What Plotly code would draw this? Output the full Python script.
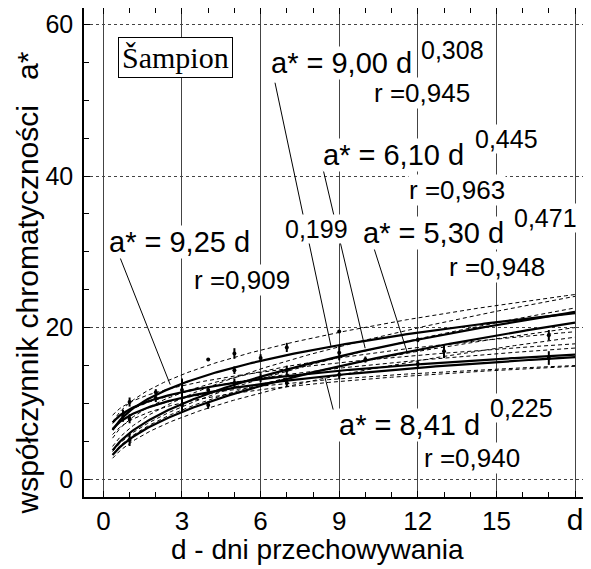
import numpy as np
import plotly.graph_objects as go

# ---- fitted power curves a* = c * d^b ----
coef = [9.25, 9.00, 6.10, 5.30, 8.41]
expo = [0.199, 0.308, 0.445, 0.471, 0.225]
coef_txt = ["9,25", "9,00", "6,10", "5,30", "8,41"]
expo_txt = ["0,199", "0,308", "0,445", "0,471", "0,225"]
r_txt = ["0,909", "0,945", "0,963", "0,948", "0,940"]
band_k = [0.07, 0.09, 0.075, 0.075, 0.06]   # relative half-width of confidence bands
d_start, d_end = 0.35, 18.0

# ---- measured points (mean, half range) ----
pt_d = [0.75, 1, 1, 1, 2, 2, 3, 3, 4, 4, 4, 5, 5, 5, 6, 6, 7, 7, 7, 9, 9, 9, 10, 12, 12, 13, 17, 17]
pt_a = [8.4, 10.2, 5.2, 8.0, 10.7, 11.5, 11.8, 9.8, 15.8, 11.8, 9.8, 16.6, 14.4, 12.7, 16.0, 13.4,
        17.4, 14.4, 12.7, 19.5, 16.7, 13.8, 15.8, 18.4, 15.2, 16.9, 19.0, 16.0]
pt_err = [0.8, 0.6, 0.8, 0.6, 0.5, 0.4, 1.5, 1.0, 0.0, 0.5, 0.5, 0.7, 0.5, 0.6, 0.5, 0.6,
          0.6, 0.6, 0.5, 0.0, 1.0, 0.6, 0.4, 0.3, 0.4, 0.9, 0.7, 0.9]

# ---- axis ticks ----
x_tickvals = [0, 3, 6, 9, 12, 15, 18]
x_ticktext = ["0", "3", "6", "9", "12", "15", "<span style='font-size:30px'>d</span>"]
y_tickvals = [0, 20, 40, 60]

# ---- label placement (data coordinates) ----
eq_x = [0.18, 6.37, 8.35, 9.87, 8.95]
eq_y = [31.3, 54.9, 42.8, 32.5, 7.17]
sup_x = [6.9, 12.08, 14.15, 15.64, 14.72]
sup_y = [33.0, 56.6, 44.9, 34.5, 9.4]
r_x = [3.43, 10.29, 11.63, 13.16, 12.2]
r_y = [26.3, 50.9, 38.2, 28.0, 2.8]
lead_x0 = [0.64, 6.55, 8.39, 10.26, 8.77]
lead_y0 = [29.2, 52.3, 40.8, 31.2, 9.2]
lead_x1 = [2.55, 8.69, 9.99, 11.59, 8.46]
lead_y1 = [12.5, 17.5, 17.3, 16.8, 13.4]

FONT = "Liberation Sans, Arial, sans-serif"

fig = go.Figure()

d = np.linspace(d_start, d_end, 200)
for c, b, k in zip(coef, expo, band_k):
    y = c * d ** b
    w = k * np.sqrt(1 + (np.log(d) - np.log(5)) ** 2 / 3)
    for f in (1 + w, 1 - w):
        fig.add_trace(go.Scatter(x=d, y=y * f, mode="lines",
                                 line=dict(color="black", width=1, dash="4px,3px"),
                                 hoverinfo="skip", showlegend=False))
    fig.add_trace(go.Scatter(x=d, y=y, mode="lines",
                             line=dict(color="black", width=2.2),
                             hoverinfo="skip", showlegend=False))

fig.add_trace(go.Scatter(x=pt_d, y=pt_a, mode="markers",
                         marker=dict(color="black", size=4),
                         error_y=dict(type="data", array=pt_err, color="black",
                                      thickness=2, width=0),
                         showlegend=False))

# leader lines
for x0, y0, x1, y1 in zip(lead_x0, lead_y0, lead_x1, lead_y1):
    fig.add_trace(go.Scatter(x=[x0, x1], y=[y0, y1], mode="lines",
                             line=dict(color="black", width=1),
                             hoverinfo="skip", showlegend=False))

ann = []
for i in range(5):
    ann.append(dict(x=eq_x[i], y=eq_y[i], xref="x", yref="y", xanchor="left", yanchor="middle",
                    text=f"a* = {coef_txt[i]} d", showarrow=False, bgcolor="white", borderpad=0,
                    font=dict(family=FONT, size=29, color="black")))
    ann.append(dict(x=sup_x[i], y=sup_y[i], xref="x", yref="y", xanchor="left", yanchor="middle",
                    text=expo_txt[i], showarrow=False, bgcolor="white", borderpad=0,
                    font=dict(family=FONT, size=25, color="black")))
    ann.append(dict(x=r_x[i], y=r_y[i], xref="x", yref="y", xanchor="left", yanchor="middle",
                    text=f"r ={r_txt[i]}", showarrow=False, bgcolor="white", borderpad=0,
                    font=dict(family=FONT, size=26, color="black")))

ann.append(dict(x=2.77, y=55.6, xref="x", yref="y", xanchor="center", yanchor="middle",
                text="Šampion", showarrow=False,
                bgcolor="white", bordercolor="black", borderwidth=1, borderpad=3,
                font=dict(family="Liberation Serif, Times New Roman, serif", size=30, color="black")))

ann.append(dict(x=-0.112, y=0.437, xref="paper", yref="paper", xanchor="center", yanchor="middle",
                textangle=-90,
                text="współczynnik chromatyczności   a*", showarrow=False,
                font=dict(family=FONT, size=30, color="black")))
ann.append(dict(x=0.46, y=-0.108, xref="paper", yref="paper", xanchor="center", yanchor="middle",
                text="d - dni przechowywania", showarrow=False,
                font=dict(family=FONT, size=28, color="black")))

# the page body adds an 8px margin, so the figure is 8px smaller than the window
fig.update_layout(
    width=583, height=561,
    margin=dict(l=76, r=0, t=0, b=72, autoexpand=False),
    paper_bgcolor="white", plot_bgcolor="white",
    annotations=ann,
    showlegend=False,
)
fig.update_xaxes(range=[-0.74, 18.61], tickvals=x_tickvals, ticktext=x_ticktext,
                 automargin=False,
                 showgrid=True, gridcolor="#444", gridwidth=1,
                 showline=True, linecolor="black", linewidth=1.5, mirror="ticks",
                 ticks="inside", ticklen=6, tickcolor="black",
                 minor=dict(dtick=1, ticks="inside", ticklen=5, tickcolor="black", showgrid=False),
                 zeroline=False,
                 tickfont=dict(family=FONT, size=26, color="black"))
fig.update_yaxes(range=[-2.32, 62.15], tickvals=y_tickvals,
                 automargin=False,
                 showgrid=True, gridcolor="#444", gridwidth=1, griddash="dot",
                 showline=True, linecolor="black", linewidth=1.5, mirror=False,
                 ticks="inside", ticklen=6, tickcolor="black", ticklabelstandoff=4,
                 minor=dict(dtick=5, ticks="inside", ticklen=5, tickcolor="black", showgrid=False),
                 zeroline=False,
                 tickfont=dict(family=FONT, size=25, color="black"))

fig.write_html("out.html")
